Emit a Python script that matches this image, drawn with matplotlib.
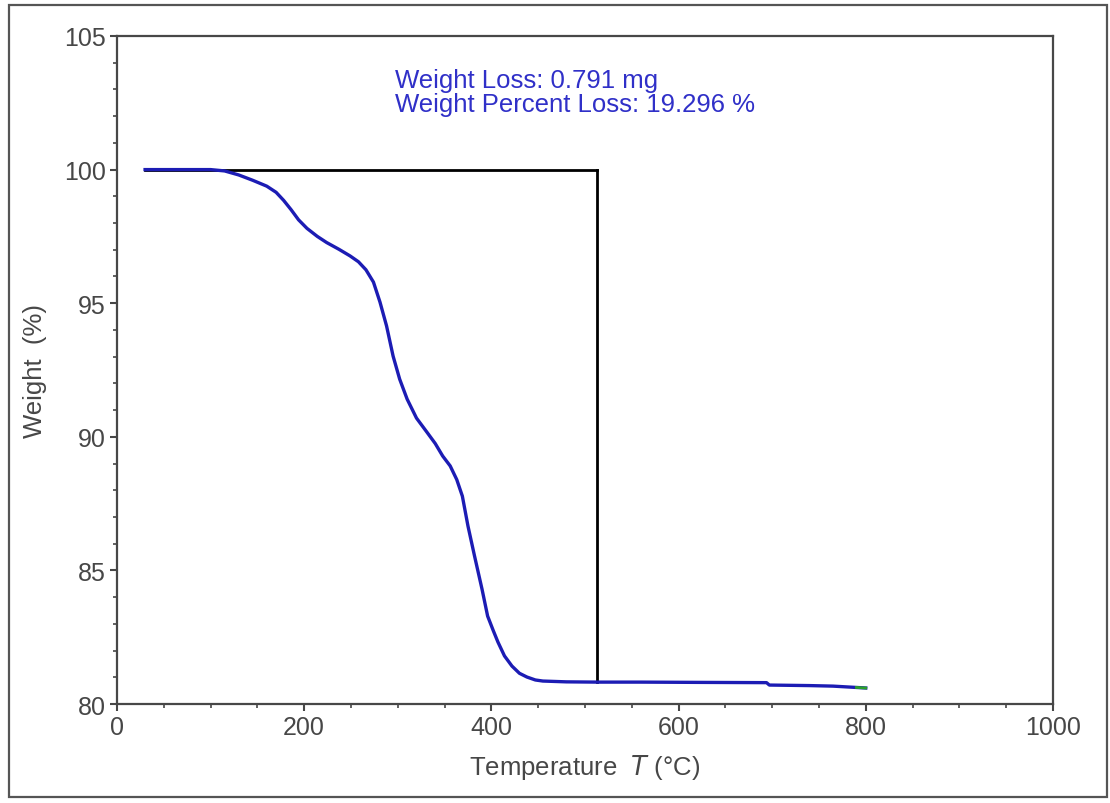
import matplotlib.pyplot as plt
from matplotlib.patches import Rectangle
from matplotlib.ticker import MultipleLocator

# TGA run: temperature (°C) vs. remaining weight (%)
temperature = [30, 60, 100, 115, 130, 145, 160, 170, 178, 186, 194, 203, 214, 224,
               237, 249, 258, 266, 274, 281, 288, 295, 302, 310, 320, 331, 340, 348,
               356, 363, 369, 375, 382, 390, 396, 402, 407, 414, 422, 430, 438, 447,
               455, 480, 513, 560, 620, 694, 697, 740, 765, 780, 790, 800]
weight = [100.0, 100.0, 100.0, 99.95, 99.8, 99.6, 99.38, 99.15, 98.85, 98.5, 98.12,
          97.8, 97.5, 97.27, 97.02, 96.77, 96.55, 96.25, 95.79, 95.04, 94.15, 93.02,
          92.16, 91.41, 90.7, 90.18, 89.75, 89.28, 88.91, 88.4, 87.78, 86.66, 85.54,
          84.3, 83.29, 82.75, 82.32, 81.8, 81.42, 81.15, 81.01, 80.9, 80.86, 80.83,
          80.82, 80.82, 80.81, 80.8, 80.71, 80.69, 80.67, 80.64, 80.62, 80.6]

# step marker for the loss measurement
step_start = 30
step_end = 513
weight_start = 100.0
weight_end = 80.82

loss_mg = 0.791
loss_pct = 19.296

plt.rcParams['font.family'] = ['Liberation Sans', 'DejaVu Sans']
grey = '#474747'
blue = '#1c1cb4'

fig = plt.figure(figsize=(11.1, 8.04), dpi=100, facecolor='white')
ax = fig.add_axes([0.1054, 0.1231, 0.8432, 0.8309])

# outer frame around the whole chart
fig.patches.append(Rectangle((0.0081, 0.0075), 0.989, 0.985, transform=fig.transFigure,
                             fill=False, edgecolor='#555555', linewidth=1.6))

ax.plot([step_start, step_end], [weight_start, weight_start], color='black', lw=2.0)
ax.plot([step_end, step_end], [weight_start, weight_end], color='black', lw=2.0)
ax.plot(temperature, weight, color=blue, lw=2.4, solid_joinstyle='round')
ax.plot(temperature[-2:], weight[-2:], color='#2aa02a', lw=2.0)

ax.text(297, 103.09, f'Weight Loss: {loss_mg} mg', color='#3030c8', fontsize=18.5,
        va='baseline', ha='left')
ax.text(297, 102.19, f'Weight Percent Loss: {loss_pct} %', color='#3030c8', fontsize=18.5,
        va='baseline', ha='left')

ax.set_xlim(0, 1000)
ax.set_ylim(80, 105)
ax.xaxis.set_major_locator(MultipleLocator(200))
ax.xaxis.set_minor_locator(MultipleLocator(50))
ax.yaxis.set_major_locator(MultipleLocator(5))
ax.yaxis.set_minor_locator(MultipleLocator(1))

ax.tick_params(which='major', direction='out', length=5, width=1.5, color=grey,
               labelcolor=grey, labelsize=18, pad=3)
ax.tick_params(which='minor', direction='out', length=3, width=1.2, color=grey)
for s in ax.spines.values():
    s.set_color(grey)
    s.set_linewidth(1.6)

ax.set_xlabel('Temperature  $\\it{T}$ (°C)', fontsize=18.5, color=grey, labelpad=9)
ax.set_ylabel('Weight  (%)', fontsize=18.5, color=grey, labelpad=12)

fig.savefig('out.png', dpi=100, facecolor='white')
